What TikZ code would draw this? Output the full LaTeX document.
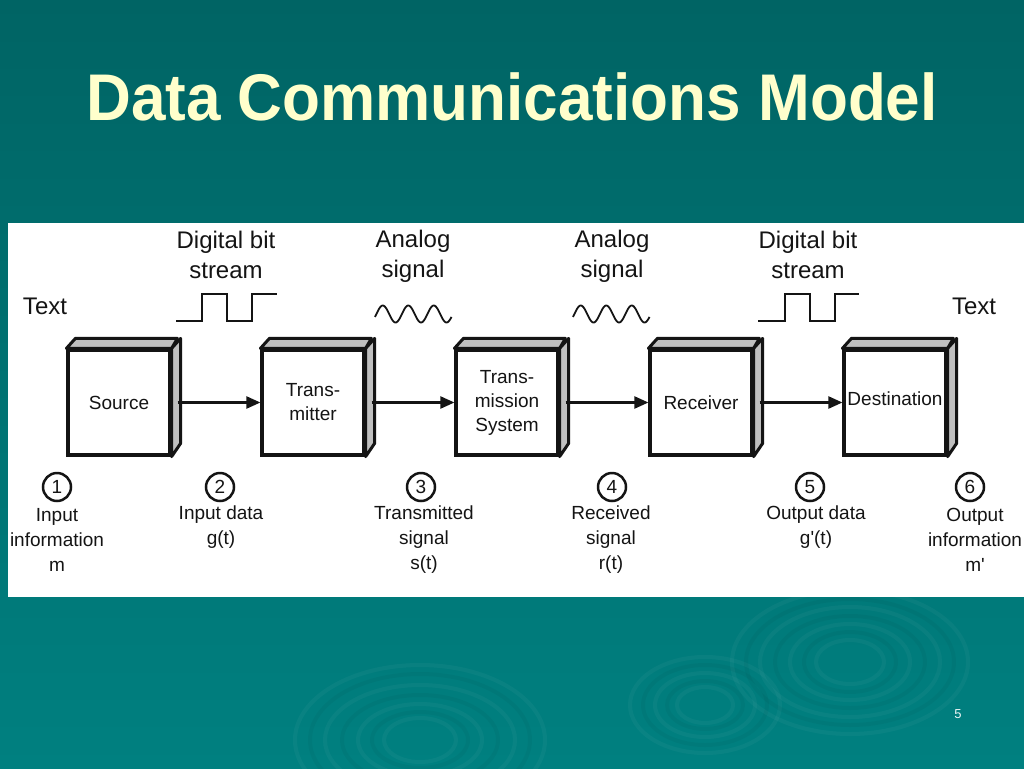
\documentclass[tikz,border=0pt]{standalone}
\usepackage{fontspec}
\setmainfont{Liberation Sans}
\usetikzlibrary{arrows.meta}
\definecolor{bgtop}{RGB}{0,100,100}
\definecolor{bgbot}{RGB}{0,128,128}
\definecolor{titley}{RGB}{255,255,204}
\definecolor{facegray}{RGB}{192,192,192}
\definecolor{ink}{RGB}{20,20,20}
\begin{document}
\begin{tikzpicture}[x=1pt,y=-1pt,
  box/.style={draw=ink,line width=3.2pt,fill=white,minimum width=102pt,minimum height=105pt,inner sep=0pt,font=\fontsize{19}{24}\selectfont,align=center,text=ink},
  face/.style={draw=ink,line width=3pt,fill=facegray,line join=round},
  arr/.style={draw=ink,line width=2.3pt,-{Triangle[length=14pt,width=12pt]}},
  num/.style={circle,draw=ink,line width=2.5pt,minimum size=28pt,inner sep=0pt,font=\fontsize{19}{19}\selectfont,text=ink},
  lbl/.style={align=center,font=\fontsize{19}{25}\selectfont,text=ink,inner sep=0pt},
  toplbl/.style={align=center,font=\fontsize{24}{30}\selectfont,text=ink,inner sep=0pt},
  wave/.style={draw=ink,line width=1.8pt,line join=miter},
  ripl/.style={draw=white,opacity=0.035,line width=4pt},
  ripd/.style={draw=black,opacity=0.035,line width=4pt},
  ttl/.style={font=\fontsize{66}{66}\selectfont\bfseries,xscale=0.94,inner sep=0pt}
]
\useasboundingbox (0,0) rectangle (1024,768);
\shade[top color=bgtop,bottom color=bgbot] (0,0) rectangle (1024,768);

% ripples
\foreach \r/\s in {125/75,95/55,62/36,36/22}{\draw[ripl] (420,740) ellipse ({\r} and {\s});}
\foreach \r/\s in {110/66,78/45,48/28}{\draw[ripd] (420,740) ellipse ({\r} and {\s});}
\foreach \r/\s in {75/48,50/32,28/18}{\draw[ripl] (705,705) ellipse ({\r} and {\s});}
\foreach \r/\s in {62/40,38/24}{\draw[ripd] (705,705) ellipse ({\r} and {\s});}
\foreach \r/\s in {118/72,90/55,60/38,34/22}{\draw[ripl] (850,662) ellipse ({\r} and {\s});}
\foreach \r/\s in {104/63,75/46,46/30}{\draw[ripd] (850,662) ellipse ({\r} and {\s});}

% title
\node[ttl,text=titley] (title) at (512,97) {Data Communications Model};

% panel
\fill[white] (8,223) rectangle (1024,597);

% boxes
\node[box] (src) at (119,402.5) {Source};
\node[box] (tx) at (313,402.5) {Trans-\\mitter};
\node[box] (sys) at (507,402.5) {Trans-\\mission\\System};
\node[box] (rx) at (701,402.5) {Receiver};
\node[box] (dst) at (895,402.5) {\raisebox{7pt}{Destination}};
\foreach \b in {src,tx,sys,rx,dst}{
  \filldraw[face] (\b.north west) -- ++(9,-10) -- ++(102,0) -- (\b.north east) -- cycle;
  \filldraw[face] (\b.north east) -- ++(9,-10) -- ++(0,105) -- (\b.south east) -- cycle;
}
\draw[arr] ([xshift=6pt]src.east) -- (tx.west);
\draw[arr] ([xshift=6pt]tx.east) -- (sys.west);
\draw[arr] ([xshift=6pt]sys.east) -- (rx.west);
\draw[arr] ([xshift=6pt]rx.east) -- (dst.west);

% top labels
\node[toplbl] (txtl) at (45,306) {Text};
\node[toplbl] (txtr) at (974,306) {Text};
\node[toplbl] (t1) at (226,255) {Digital bit\\stream};
\node[toplbl] (t2) at (413,256) {Analog\\signal};
\node[toplbl] (t3) at (612,256) {Analog\\signal};
\node[toplbl] (t4) at (808,255) {Digital bit\\stream};

% waveforms
\draw[wave] (176,321) -- (202,321) -- (202,294) -- (227,294) -- (227,321) -- (252,321) -- (252,294) -- (277,294);
\draw[wave] (758,321) -- (785,321) -- (785,294) -- (810,294) -- (810,321) -- (835,321) -- (835,294) -- (859,294);
\draw[wave] plot[domain=-20:1060,samples=120,smooth] ({375+(\x+20)/360*25.5},{314-8.5*sin(\x)});
\draw[wave] plot[domain=-20:1060,samples=120,smooth] ({573+(\x+20)/360*25.5},{314-8.5*sin(\x)});

% numbered points
\node[num] (c1) at (57,487) {1};
\node[num] (c2) at (220,487) {2};
\node[num] (c3) at (421,487) {3};
\node[num] (c4) at (612,487) {4};
\node[num] (c5) at (810,487) {5};
\node[num] (c6) at (970,487) {6};
\node[lbl] (l1) at (57,540) {Input\\information\\m};
\node[lbl] (l2) at (221,527.5) {Input data\\g(t)};
\node[lbl] (l3) at (424,540) {Transmitted\\signal\\s(t)};
\node[lbl] (l4) at (611,540) {Received\\signal\\r(t)};
\node[lbl] (l5) at (816,527.5) {Output data\\g\textquotesingle(t)};
\node[lbl] (l6) at (975,540) {Output\\information\\m\textquotesingle};

% page number
\node[font=\fontsize{13}{13}\selectfont,text=white!92!teal] (pg) at (958,714) {5};
\end{tikzpicture}
\end{document}
